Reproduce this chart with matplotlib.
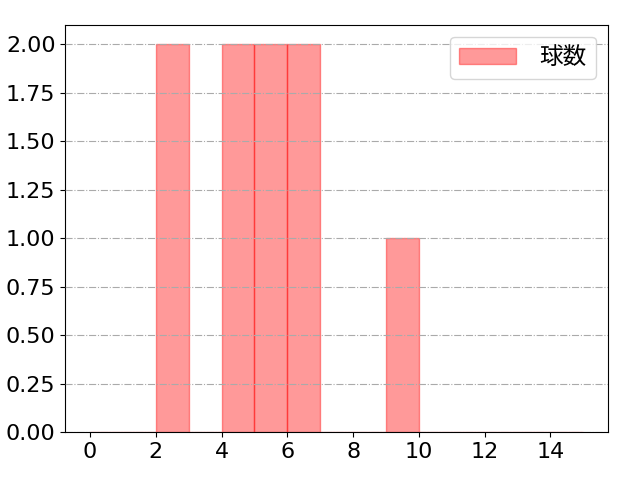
import matplotlib
matplotlib.use('Agg')
import matplotlib.pyplot as plt

plt.rcParams['font.family'] = ['DejaVu Sans', 'Noto Sans CJK JP']

# pitch counts per game
pitches = [2, 2, 4, 4, 5, 5, 6, 6, 9]
bins = list(range(0, 16))
label = '球数'

fig, ax = plt.subplots(figsize=(6.4, 4.8), dpi=100)
ax.hist(pitches, bins=bins, color='red', alpha=0.4, edgecolor='red', label=label)
ax.grid(axis='y', linestyle='-.', color='#aaaaaa')
ax.set_axisbelow(False)
ax.set_xticks(range(0, 16, 2))
ax.tick_params(labelsize=16)
ax.yaxis.set_major_formatter(matplotlib.ticker.FormatStrFormatter('%.2f'))
ax.legend(prop={'family': 'Noto Sans CJK JP', 'size': 17}, loc='upper right',
          handlelength=2.4, handletextpad=1.0)
fig.subplots_adjust(left=0.102, right=0.95, top=0.948, bottom=0.1)
fig.savefig('out.png')
